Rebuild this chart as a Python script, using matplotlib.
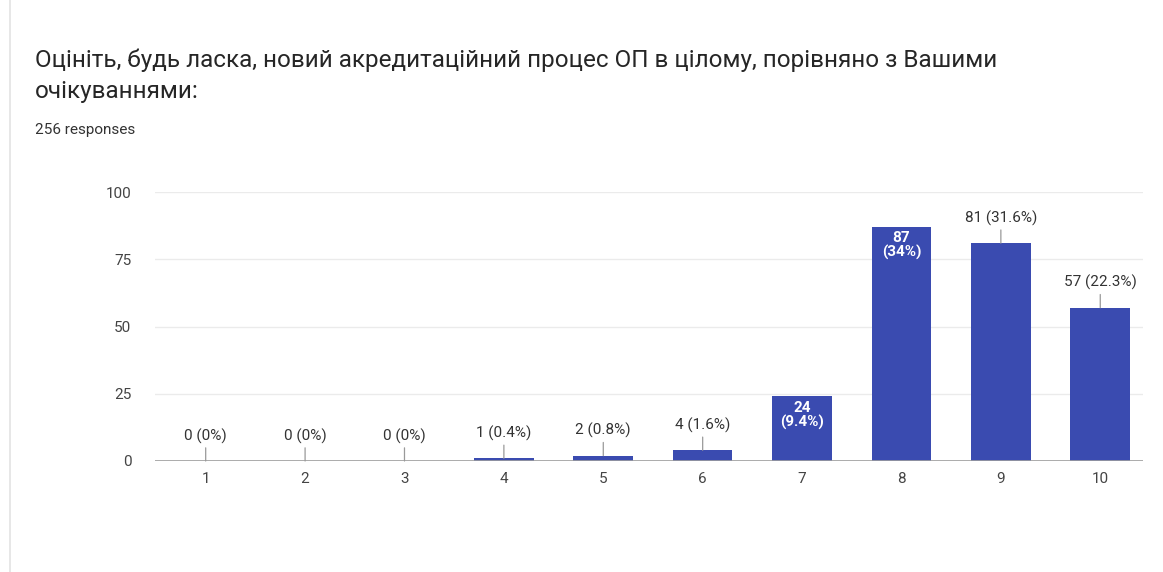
import matplotlib
matplotlib.use("Agg")
import matplotlib.pyplot as plt
from matplotlib.lines import Line2D

TITLE = "Оцініть, будь ласка, новий акредитаційний процес ОП в цілому, порівняно з Вашими\nочікуваннями:"
SUBTITLE = "256 responses"

categories = ["1", "2", "3", "4", "5", "6", "7", "8", "9", "10"]
counts = [0, 0, 0, 1, 2, 4, 24, 87, 81, 57]
percents = ["0%", "0%", "0%", "0.4%", "0.8%", "1.6%", "9.4%", "34%", "31.6%", "22.3%"]
inside = ["7", "8"]   # bars whose label sits inside the bar
y_ticks = [0, 25, 50, 75, 100]

BAR = "#3a4bb0"


def main():
    plt.rcParams['font.family'] = ['Roboto', 'DejaVu Sans']

    fig = plt.figure(figsize=(11.63, 5.72), dpi=100)

    # Card border on the left
    fig.add_artist(Line2D([10 / 1163, 10 / 1163], [0, 1], color="#e3e3e3", lw=1.2))

    fig.text(35 / 1163, 1 - 76 / 572, TITLE, fontsize=17.5, color="#262626",
             va="center", linespacing=1.45)
    fig.text(35 / 1163, 1 - 130 / 572, SUBTITLE, fontsize=11, color="#333333", va="center")

    ax = fig.add_axes([155 / 1163, 1 - 461 / 572, (1143 - 155) / 1163, (461 - 192) / 572])
    x = list(range(1, len(categories) + 1))
    ax.bar(x, counts, width=0.6, color=BAR, zorder=3)

    ax.set_xlim(0.49, 10.43)
    ax.set_ylim(0, 100)
    ax.set_yticks(y_ticks)
    ax.set_xticks(x)
    ax.set_xticklabels(categories)
    ax.tick_params(length=0, labelsize=11, colors="#444444")
    ax.tick_params(axis="x", pad=8)
    ax.tick_params(axis="y", pad=17)
    ax.grid(axis="y", color="#ebebeb", lw=1, zorder=0)
    for s in ax.spines.values():
        s.set_visible(False)
    ax.axhline(0, color="#9e9e9e", lw=1.2, zorder=4)

    # Bar labels
    for xi, cat, c, p in zip(x, categories, counts, percents):
        if cat in inside:
            ax.annotate(f"{c}\n({p})", (xi, c), xytext=(0, -3), textcoords="offset points",
                        ha="center", va="top", color="white", fontsize=11,
                        fontweight="bold", linespacing=1.0, zorder=5)
        else:
            ax.annotate(f"{c} ({p})", (xi, c), xytext=(0, 18), textcoords="offset points",
                        ha="center", va="center", color="#333333", fontsize=11,
                        arrowprops=dict(arrowstyle="-", color="#999999", lw=0.9,
                                        shrinkA=1, shrinkB=0), zorder=5)

    plt.savefig("out.png", dpi=100)


main()
